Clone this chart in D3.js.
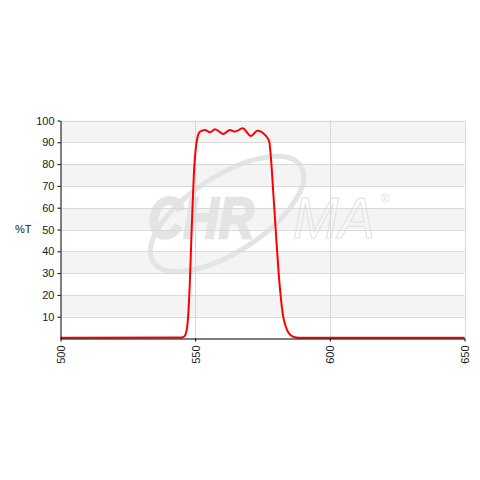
<!DOCTYPE html>
<html>
<head>
<meta charset="utf-8">
<script src="https://cdn.jsdelivr.net/npm/d3@7"></script>
<style>
  body { margin: 0; background: #fff; }
  text { font-family: "Liberation Sans", Arial, sans-serif; }
</style>
</head>
<body>
<svg></svg>
<script>
// transmission curve
var wavelengths = [500, 545, 546, 547, 548, 548.7, 549.5, 550.3, 551, 551.8, 553.65, 555.5, 557.4, 560.4, 562.9, 564.8, 567.6, 570.7, 573.1, 576, 577.5, 578.3, 579.1, 579.9, 581, 582.7, 583.5, 584.5, 585.5, 587, 588.3, 650];
var transmission = [0.4, 0.5, 1, 5, 25, 50, 75, 88, 93, 94.9, 95.6, 94.6, 96, 93.8, 95.6, 94.9, 96.4, 92.9, 95.3, 93.3, 90.3, 80, 65, 50, 30, 10, 6, 3, 1.5, 0.6, 0.4, 0.4];
var xTicks = [500, 550, 600, 650];
var yTicks = [10, 20, 30, 40, 50, 60, 70, 80, 90, 100];

var drawGraph = function()
{
  var screen = { width: 480, height: 480 };

  var svg = d3.select("svg")
              .attr("width", screen.width)
              .attr("height", screen.height);

  var plot = { left: 60.5, right: 464.5, top: 120.5, bottom: 338.5 };

  var xScale = d3.scaleLinear()
                 .domain([500, 650])
                 .range([plot.left, plot.right]);

  var yScale = d3.scaleLinear()
                 .domain([0, 100])
                 .range([plot.bottom, plot.top]);

  // alternating bands
  var bands = d3.range(0, 100, 10);
  svg.append("g").selectAll("rect")
     .data(bands)
     .enter()
     .append("rect")
     .attr("x", plot.left)
     .attr("width", plot.right - plot.left)
     .attr("y", function(d) { return yScale(d + 10); })
     .attr("height", function(d) { return yScale(d) - yScale(d + 10); })
     .attr("fill", function(d, i) { return i % 2 == 0 ? "#ffffff" : "#f4f4f4"; });

  // watermark
  var wm = svg.append("g");
  wm.append("ellipse")
    .attr("cx", 227).attr("cy", 214)
    .attr("rx", 88).attr("ry", 38)
    .attr("transform", "rotate(-33,227,214)")
    .attr("fill", "none")
    .attr("stroke", "#e4e4e4")
    .attr("stroke-width", 5);
  wm.append("text")
    .attr("x", 148).attr("y", 238)
    .attr("font-size", 58)
    .attr("font-weight", "bold")
    .attr("font-style", "italic")
    .attr("fill", "#e4e4e4")
    .attr("stroke", "#e4e4e4")
    .attr("stroke-width", 2.5)
    .attr("textLength", 106)
    .attr("lengthAdjust", "spacingAndGlyphs")
    .text("CHR");
  wm.append("text")
    .attr("x", 293).attr("y", 238)
    .attr("font-size", 58)
    .attr("font-style", "italic")
    .attr("fill", "none")
    .attr("stroke", "#e0e0e0")
    .attr("stroke-width", 1)
    .attr("textLength", 82)
    .attr("lengthAdjust", "spacingAndGlyphs")
    .text("MA");
  wm.append("text")
    .attr("x", 381).attr("y", 203)
    .attr("font-size", 12)
    .attr("fill", "#e2e2e2")
    .text("\u00ae");

  // grid lines
  svg.append("g").selectAll("line")
     .data(yTicks)
     .enter()
     .append("line")
     .attr("x1", plot.left).attr("x2", plot.right)
     .attr("y1", function(d) { return Math.round(yScale(d)) + 0.5; })
     .attr("y2", function(d) { return Math.round(yScale(d)) + 0.5; })
     .attr("stroke", "#d9d9d9");

  svg.append("g").selectAll("line")
     .data(xTicks.slice(1))
     .enter()
     .append("line")
     .attr("x1", function(d) { return Math.round(xScale(d)) + 0.5; })
     .attr("x2", function(d) { return Math.round(xScale(d)) + 0.5; })
     .attr("y1", plot.top).attr("y2", plot.bottom)
     .attr("stroke", "#d9d9d9");

  // curve
  var line = d3.line()
               .x(function(d, i) { return xScale(wavelengths[i]); })
               .y(function(d) { return yScale(d); })
               .curve(d3.curveMonotoneX);

  svg.append("path")
     .datum(transmission)
     .attr("d", line)
     .attr("fill", "none")
     .attr("stroke", "#ff0000")
     .attr("stroke-width", 2);

  // axes
  var yAxis = d3.axisLeft(yScale)
                .tickValues(yTicks)
                .tickSize(3)
                .tickSizeOuter(0);
  var gy = svg.append("g")
              .attr("transform", "translate(" + plot.left + ",0)")
              .call(yAxis);
  gy.selectAll("text")
    .attr("font-size", 11)
    .attr("font-family", "Liberation Sans, Arial, sans-serif")
    .attr("fill", "#222")
    .attr("x", -6);
  gy.select(".domain").attr("stroke", "#000");

  var xAxis = d3.axisBottom(xScale)
                .tickValues(xTicks)
                .tickSize(3)
                .tickSizeOuter(0);
  var gx = svg.append("g")
              .attr("transform", "translate(0," + plot.bottom + ")")
              .call(xAxis);
  gx.selectAll("text")
    .attr("font-size", 11)
    .attr("font-family", "Liberation Sans, Arial, sans-serif")
    .attr("fill", "#222")
    .attr("transform", "rotate(-90)")
    .attr("text-anchor", "end")
    .attr("x", -7)
    .attr("y", 0)
    .attr("dy", "0.35em");
  gx.select(".domain").attr("stroke", "#000");

  svg.append("text")
     .attr("x", 15)
     .attr("y", yScale(50))
     .attr("dy", "0.35em")
     .attr("font-size", 11)
     .attr("fill", "#222")
     .text("%T");
};

drawGraph();
</script>
</body>
</html>
